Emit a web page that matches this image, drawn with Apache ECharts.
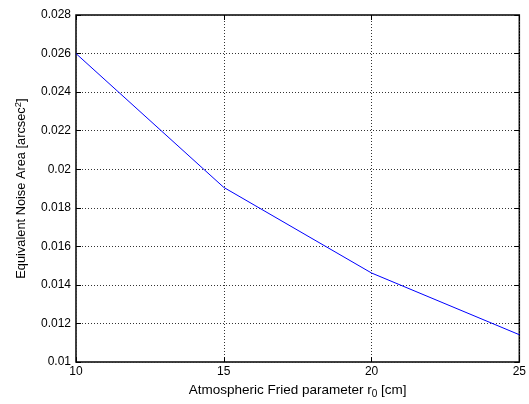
<!DOCTYPE html>
<html><head><meta charset="utf-8">
<script src="https://cdn.jsdelivr.net/npm/echarts@6/dist/echarts.min.js"></script>
<style>html,body{margin:0;padding:0;background:#fff}#c{width:529px;height:404px}</style>
</head><body><div id="c"></div>
<script>
const fried = [10, 15, 20, 25];
const noiseArea = [0.0260, 0.01906, 0.01462, 0.01142];
const xTicks = [10, 15, 20, 25];
const yTicks = [0.01, 0.012, 0.014, 0.016, 0.018, 0.02, 0.022, 0.024, 0.026, 0.028];

const chart = echarts.init(document.getElementById('c'));
const font = 'Liberation Sans, Arial, sans-serif';
const gridLine = {show: true, lineStyle: {color: '#333', type: [1, 2], width: 1}};
const tick = {show: true, inside: true, length: 5, lineStyle: {color: '#000'}};
chart.setOption({
  animation: false,
  grid: {left: 76, right: 7, top: 15, bottom: 38, show: true, borderColor: '#000', borderWidth: 1.5, backgroundColor: '#fff'},
  xAxis: [{
    type: 'value', min: 10, max: 25, interval: 5,
    name: 'Atmospheric Fried parameter r{sub|0} [cm]', nameLocation: 'middle', nameGap: 18,
    nameTextStyle: {color: '#000', fontFamily: font, fontSize: 13.5,
      rich: {sub: {fontSize: 10, verticalAlign: 'bottom', padding: [8, 0, 0, 0], fontFamily: font, color: '#000'}}},
    axisLine: {show: false},
    axisTick: tick,
    axisLabel: {color: '#000', fontFamily: font, fontSize: 12, margin: 4,
      formatter: v => xTicks.includes(v) ? String(v) : ''},
    splitLine: gridLine
  }, {
    type: 'value', position: 'top', min: 10, max: 25, interval: 5,
    axisLine: {show: false}, axisTick: tick, axisLabel: {show: false}, splitLine: {show: false}
  }],
  yAxis: [{
    type: 'value', min: 0.01, max: 0.028, interval: 0.002,
    name: 'Equivalent Noise Area [arcsec{sup|2}]', nameLocation: 'middle', nameGap: 47, nameRotate: 90,
    nameTextStyle: {color: '#000', fontFamily: font, fontSize: 12.8,
      rich: {sup: {fontSize: 9.5, verticalAlign: 'top', padding: [0, 0, 6, 0], fontFamily: font, color: '#000'}}},
    axisLine: {show: false},
    axisTick: tick,
    axisLabel: {color: '#000', fontFamily: font, fontSize: 12, margin: 5,
      formatter: v => { const t = yTicks.find(y => Math.abs(y - v) < 1e-9); return t === undefined ? '' : String(t); }},
    splitLine: gridLine
  }, {
    type: 'value', position: 'right', min: 0.01, max: 0.028, interval: 0.002,
    axisLine: {show: false}, axisTick: tick, axisLabel: {show: false}, splitLine: {show: false}
  }],
  series: [{
    type: 'line', data: fried.map((x, i) => [x, noiseArea[i]]),
    symbol: 'none', lineStyle: {color: '#0000ff', width: 1}, z: 5
  }]
});
</script></body></html>
